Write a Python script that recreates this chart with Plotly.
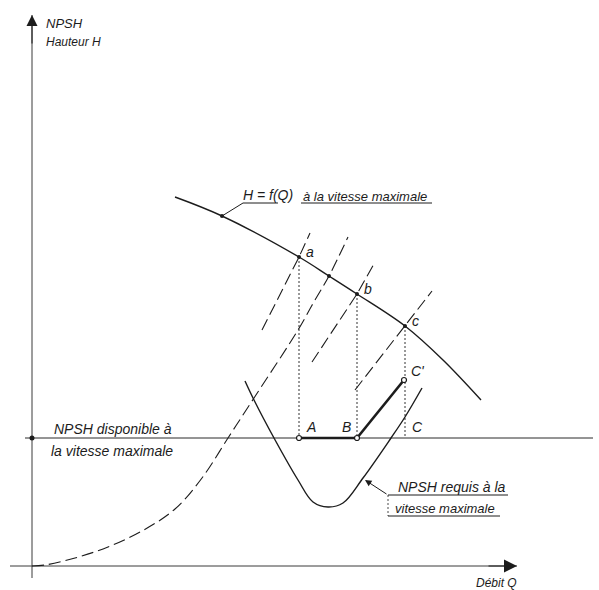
import plotly.graph_objects as go

# ---------------- data (Q = débit, H = hauteur / NPSH, chart units) ----------------
# pump head curve H = f(Q) at maximum speed
q_hq = [1.43, 1.90, 2.67, 2.97, 3.25, 3.73, 4.11, 4.49]
h_hq = [3.69, 3.50, 3.09, 2.90, 2.72, 2.40, 2.06, 1.66]

# system curve (dashed parabola from origin)
q_sys = [0.00, 0.13, 0.43, 0.76, 1.10, 1.43, 1.70, 1.96, 2.22, 2.66, 2.83, 2.97, 3.16]
h_sys = [0.00, 0.01, 0.08, 0.19, 0.35, 0.57, 0.88, 1.28, 1.68, 2.36, 2.66, 2.90, 3.29]

# short system-curve pieces through a, b, c
q_sys_a = [2.30, 2.67, 2.78]
h_sys_a = [2.36, 3.09, 3.33]
q_sys_b = [2.80, 3.25, 3.43]
h_sys_b = [2.04, 2.72, 3.04]
q_sys_c = [3.23, 3.73, 4.00]
h_sys_c = [1.76, 2.40, 2.75]

# NPSH required at maximum speed
q_req = [2.13, 2.22, 2.42, 2.66, 2.81, 2.96, 3.11, 3.31, 3.59, 3.73, 3.90]
h_req = [1.85, 1.66, 1.28, 0.86, 0.64, 0.59, 0.63, 0.88, 1.28, 1.49, 1.78]

# NPSH available at maximum speed
npsh_avail = 1.28

# operating points on H = f(Q)
op_names = ["a", "b", "c"]
q_op = [2.67, 3.25, 3.73]
h_op = [3.09, 2.72, 2.40]
q_mid, h_mid = 2.97, 2.90

# point C'
q_cp, h_cp = 3.72, 1.86

# axis extents
q_axis = [-0.22, 4.85]
h_axis = [-0.12, 5.51]

# ---------------------------------------------------------------------------
INK = "#1c1c1c"
FONT = "Liberation Sans"

fig = go.Figure()

def line(x, y, width=1.3, dash=None, color=INK, shape="linear"):
    fig.add_trace(go.Scatter(x=x, y=y, mode="lines",
                             line=dict(color=color, width=width, dash=dash, shape=shape),
                             hoverinfo="skip"))

# axes (lines)
line(q_axis, [0, 0], width=1.0, color="#3a3a3a")
line([0, 0], h_axis, width=1.0, color="#3a3a3a")

# NPSH available level
line([-0.07, 5.61], [npsh_avail, npsh_avail], width=1.0, color="#2a2a2a")

# system curves
line(q_sys, h_sys, width=1.1, dash="12px,5px", shape="spline")
line(q_sys_a, h_sys_a, width=1.1, dash="12px,5px")
line(q_sys_b, h_sys_b, width=1.1, dash="12px,5px")
line(q_sys_c, h_sys_c, width=1.1, dash="12px,5px")

# vertical projections a->A, b->B, c->C
for q, h in zip(q_op, h_op):
    line([q, q], [h, npsh_avail], width=1.0, dash="2px,2px", color="#333333")

# pump curve and NPSH required
line(q_hq, h_hq, width=1.4, shape="spline")
line(q_req, h_req, width=1.4, shape="spline")

# bold segments A-B and B-C'
line([q_op[0], q_op[1]], [npsh_avail, npsh_avail], width=2.6)
line([q_op[1], q_cp], [npsh_avail, h_cp], width=2.6)

# markers
fig.add_trace(go.Scatter(x=q_op + [q_mid], y=h_op + [h_mid], mode="markers",
                         marker=dict(size=4, color=INK), hoverinfo="skip"))
fig.add_trace(go.Scatter(x=[q_op[0], q_op[1], q_cp], y=[npsh_avail, npsh_avail, h_cp],
                         mode="markers",
                         marker=dict(size=5, color="white", line=dict(color=INK, width=1.2)),
                         hoverinfo="skip"))
fig.add_trace(go.Scatter(x=[0], y=[npsh_avail], mode="markers",
                         marker=dict(size=5, color=INK), hoverinfo="skip"))

# label leaders / underlines
# H = f(Q)
line([q_hq[1], 2.11, 2.46], [h_hq[1], 3.63, 3.63], width=1.0)
line([2.69, 4.00], [3.63, 3.63], width=1.0)
fig.add_trace(go.Scatter(x=[q_hq[1]], y=[h_hq[1]], mode="markers",
                         marker=dict(size=4, color=INK), hoverinfo="skip"))
# NPSH requis
line([3.56, 4.76], [0.71, 0.71], width=1.0)
line([3.56, 4.68], [0.50, 0.50], width=1.0)
line([3.56, 3.56], [0.71, 0.50], width=0.8, dash="2px,2px")

annotations = []

def txt(x, y, s, size=14, xanchor="left", yanchor="middle"):
    annotations.append(dict(x=x, y=y, text="<i>" + s + "</i>", showarrow=False,
                            xanchor=xanchor, yanchor=yanchor,
                            font=dict(family=FONT, size=size, color=INK)))

txt(0.12, 5.43, "NPSH", size=13)
txt(0.12, 5.24, "Hauteur H", size=12)
txt(4.87, -0.17, "Débit Q", size=12, xanchor="right")
txt(2.09, 3.71, "H = f(Q)", size=14)
txt(2.69, 3.70, "à la vitesse maximale", size=13)
txt(0.20, 1.37, "NPSH disponible à", size=14)
txt(0.17, 1.15, "la vitesse maximale", size=14)
txt(3.64, 0.79, "NPSH requis à la", size=14)
txt(3.61, 0.58, "vitesse maximale", size=13)

# point labels
for n, q, h in zip(op_names, q_op, h_op):
    txt(q + 0.05, h + 0.05, n, size=14)
txt(q_op[0] + 0.05, npsh_avail + 0.11, "A", size=14)
txt(q_op[1] - 0.04, npsh_avail + 0.11, "B", size=14, xanchor="right")
txt(q_op[2] + 0.05, npsh_avail + 0.11, "C", size=14)
txt(q_cp + 0.05, h_cp + 0.09, "C'", size=14)

# arrowheads of the axes
annotations.append(dict(x=q_axis[1], y=0, ax=q_axis[1] - 0.3, ay=0,
                        xref="x", yref="y", axref="x", ayref="y", text="",
                        showarrow=True, arrowhead=2, arrowsize=2.6, arrowwidth=1.0,
                        arrowcolor=INK))
annotations.append(dict(x=0, y=h_axis[1], ax=0, ay=h_axis[1] - 0.3,
                        xref="x", yref="y", axref="x", ayref="y", text="",
                        showarrow=True, arrowhead=2, arrowsize=2.2, arrowwidth=1.0,
                        arrowcolor=INK))
# arrow of the NPSH requis leader
annotations.append(dict(x=q_req[7] + 0.02, y=h_req[7] - 0.02, ax=3.56, ay=0.71,
                        xref="x", yref="y", axref="x", ayref="y", text="",
                        showarrow=True, arrowhead=2, arrowsize=1.3, arrowwidth=1.0,
                        arrowcolor=INK))

fig.update_layout(
    width=599, height=590,
    margin=dict(l=0, r=0, t=0, b=0),
    paper_bgcolor="white", plot_bgcolor="white",
    showlegend=False,
    xaxis=dict(range=[-0.32, 5.67], visible=False, fixedrange=True),
    yaxis=dict(range=[-0.24, 5.66], visible=False, fixedrange=True),
    annotations=annotations,
)

fig.write_html("out.html", config=dict(displayModeBar=False),
               post_script="document.body.style.margin='0';document.body.style.padding='0';")
